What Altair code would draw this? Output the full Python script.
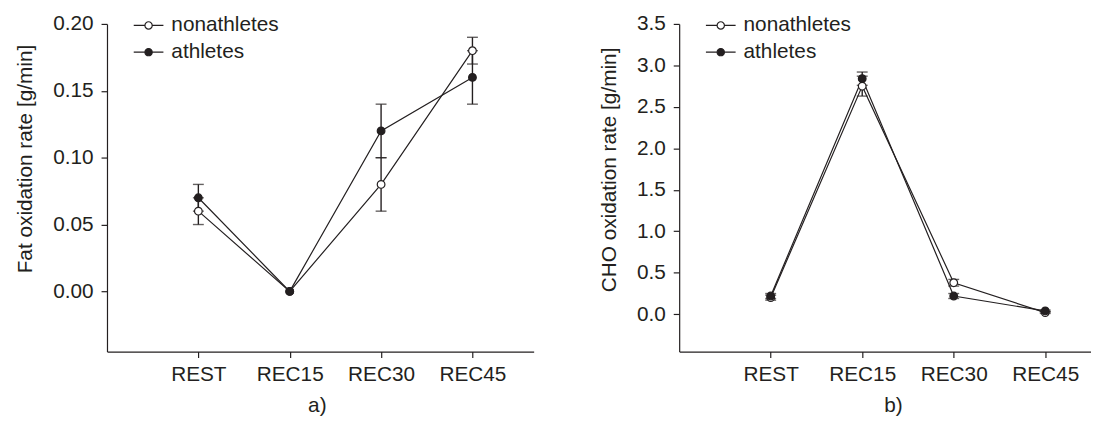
import json
import altair as alt
import pandas as pd

# ---- data ----
stages = ["REST", "REC15", "REC30", "REC45"]
stage_pos = [1, 2, 3, 4]
groups = ["nonathletes", "athletes"]

fat_non = [0.06, 0.00, 0.08, 0.18]
fat_non_err = [0.01, 0.00, 0.02, 0.01]
fat_ath = [0.07, 0.00, 0.12, 0.16]
fat_ath_err = [0.01, 0.00, 0.02, 0.02]

cho_non = [0.20, 2.75, 0.38, 0.02]
cho_non_err = [0.03, 0.12, 0.04, 0.01]
cho_ath = [0.22, 2.84, 0.22, 0.04]
cho_ath_err = [0.03, 0.08, 0.03, 0.01]

fat_ticks = [0.0, 0.05, 0.10, 0.15, 0.20]
cho_ticks = [0.0, 0.5, 1.0, 1.5, 2.0, 2.5, 3.0, 3.5]

INK = "#231f20"
FONT = "Liberation Sans"
FS = 21
LEGEND_PATH = ("M-2,0H-0.49M0.49,0H2"
               "M0.49,0A0.49,0.49,0,1,1,-0.49,0A0.49,0.49,0,1,1,0.49,0Z")
LABEL_EXPR = json.dumps([""] + stages) + "[datum.value]"


def frame(non, non_err, ath, ath_err):
    rows = []
    for g, vals, errs in ((groups[0], non, non_err), (groups[1], ath, ath_err)):
        for p, s, v, e in zip(stage_pos, stages, vals, errs):
            rows.append({"group": g, "pos": p, "stage": s, "value": v,
                         "lo": v - e, "hi": v + e, "err": e})
    return pd.DataFrame(rows)


def panel(df, ytitle, ydomain, yticks, yfmt, xmax, width, plabel, title_x, title_y):
    xscale = alt.Scale(domain=[0, xmax], nice=False, zero=False)
    yscale = alt.Scale(domain=ydomain, nice=False, zero=False)
    xaxis = alt.Axis(values=stage_pos, labelExpr=LABEL_EXPR, title=plabel,
                     titleX=title_x, titleAlign="center", titlePadding=11,
                     labelPadding=6)
    yaxis = alt.Axis(values=yticks, format=yfmt, title=ytitle,
                     titleY=title_y, titlePadding=17, labelPadding=8)
    x = alt.X("pos:Q", scale=xscale, axis=xaxis)

    def Y(field):
        return alt.Y(field, scale=yscale, axis=yaxis)

    base = alt.Chart(df)
    lines = base.mark_line(color=INK, strokeWidth=1.2).encode(
        x=x, y=Y("value:Q"), detail="group:N")
    bars = base.transform_filter("datum.err > 0").mark_rule(
        color=INK, strokeWidth=1.4).encode(x=x, y=Y("lo:Q"), y2="hi:Q")
    caps = base.transform_filter("datum.err > 0").transform_fold(
        ["lo", "hi"], as_=["end", "yv"]).mark_tick(
        orient="horizontal", size=11, thickness=1.4, color=INK).encode(
        x=x, y=Y("yv:Q"))
    pts = base.mark_circle(size=60, stroke=INK, strokeWidth=1.2, opacity=1).encode(
        x=x, y=Y("value:Q"),
        fill=alt.Fill("group:N",
                      scale=alt.Scale(domain=groups, range=["white", INK]),
                      legend=alt.Legend(
                          title=None, orient="none", legendX=31.5, legendY=-9,
                          symbolType=LEGEND_PATH, symbolSize=225,
                          symbolStrokeColor=INK, symbolStrokeWidth=1.2,
                          labelFont=FONT, labelFontSize=FS, labelColor=INK,
                          labelOffset=12.5, rowPadding=5, padding=0)))
    return alt.layer(lines, bars, caps, pts).properties(width=width, height=331)


left = panel(frame(fat_non, fat_non_err, fat_ath, fat_ath_err),
             "Fat oxidation rate [g/min]", [-0.045, 0.20], fat_ticks, ".2f",
             4.67, 431, "a)", 212, 136)
right = panel(frame(cho_non, cho_non_err, cho_ath, cho_ath_err),
              "CHO oxidation rate [g/min]", [-0.45, 3.5], cho_ticks, ".1f",
              4.5, 416, "b)", 216, 147)

chart = alt.hconcat(left, right, spacing=147, bounds="flush").resolve_scale(
    fill="independent").resolve_legend(fill="independent").configure(
    font=FONT, padding={"left": 7, "top": 3, "right": 0, "bottom": 0},
    background="white").configure_view(stroke=None).configure_axis(
    grid=False, domainColor=INK, domainWidth=1.2, tickColor=INK, tickWidth=1.2,
    tickSize=6, labelFont=FONT, labelFontSize=FS, labelColor=INK,
    titleFont=FONT, titleFontSize=FS, titleFontWeight="normal", titleColor=INK)

chart.save("out.html", embed_options={"renderer": "svg", "actions": False})
